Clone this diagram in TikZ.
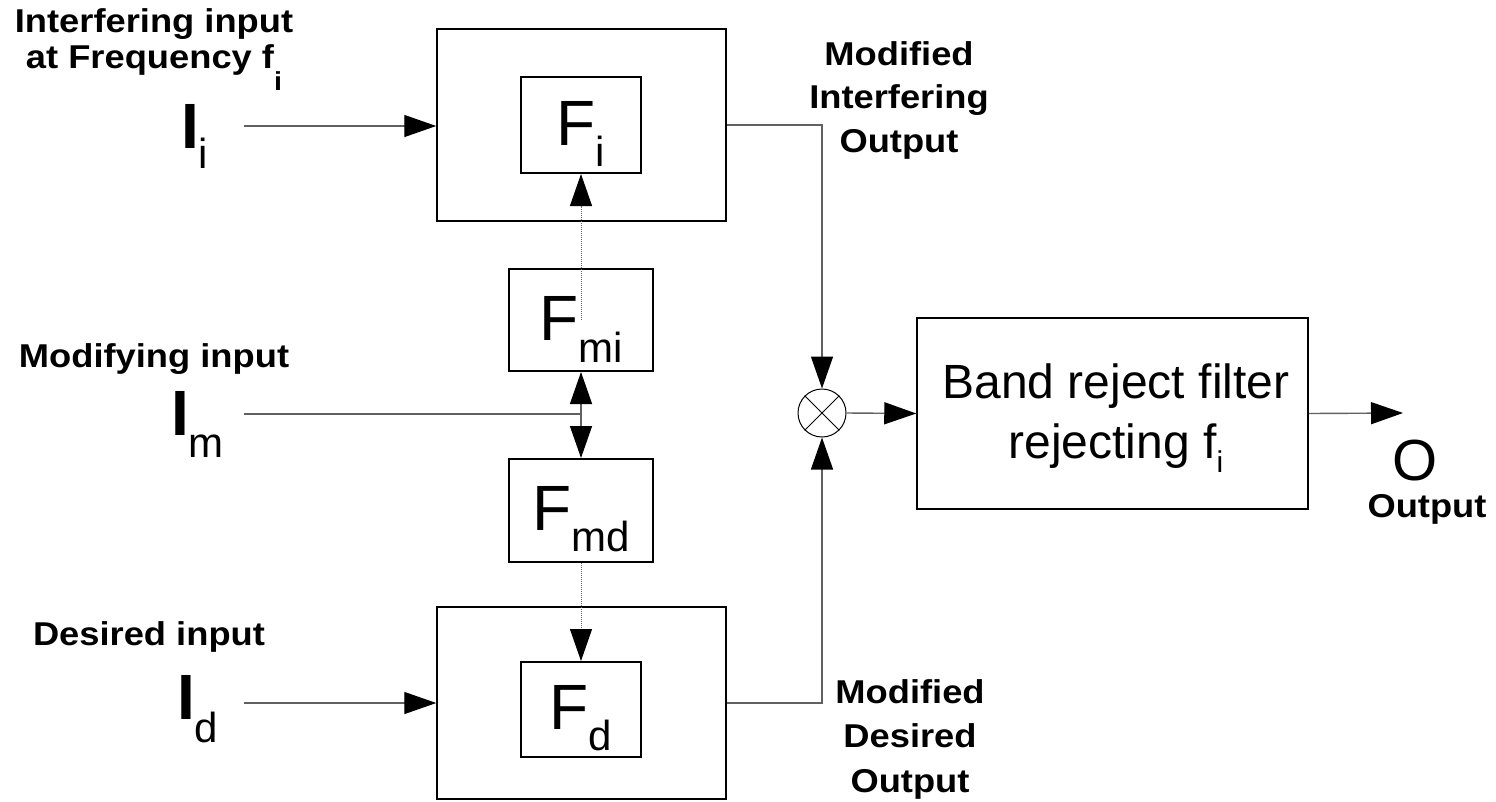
\documentclass[tikz,border=0pt]{standalone}
\usepackage{fontspec}
\setmainfont{Liberation Sans}
\newfontfamily\boldlbl{Liberation Sans}[FakeStretch=1.1]
\usetikzlibrary{arrows.meta}
\newcommand{\sbs}[2]{\raisebox{-#1pt}{\fontsize{42}{42}\selectfont #2}}
\begin{document}
\begin{tikzpicture}[x=1pt,y=-1pt,
  box/.style={draw=black,line width=1.5pt,fill=white,inner sep=0pt},
  inner/.style={draw=black,line width=2pt,fill=white,inner sep=0pt,
    font=\fontsize{64}{64}\selectfont,text height=46pt,text depth=6pt},
  conn/.style={draw=black!62,line width=1.4pt},
  arr/.style={-{Triangle[length=32pt,width=22pt,color=black]}},
  dotc/.style={draw=black!60,line width=1pt,densely dotted},
  lbl/.style={font=\boldlbl\bfseries\fontsize{33}{44}\selectfont,align=center,anchor=base,inner sep=0pt},
  bigI/.style={anchor=base west,inner sep=0pt,font=\fontsize{64}{64}\selectfont},
]
\useasboundingbox (0,0) rectangle (1496,801);
% outer boxes
\node[box,minimum width=289pt,minimum height=192pt] (top) at (581.5,125) {};
\node[box,minimum width=289pt,minimum height=192pt] (bot) at (581.5,703) {};
% inner boxes
\node[inner,minimum width=120pt,minimum height=96pt] (Fi) at (581,125) {F\sbs{21}{i}};
\node[inner,minimum width=144pt,minimum height=102pt] (Fmi) at (581,320) {F\sbs{22}{mi}};
\node[inner,minimum width=144pt,minimum height=103pt] (Fmd) at (581,510.5) {F\sbs{21}{md}};
\node[inner,minimum width=120pt,minimum height=95pt] (Fd) at (581,709.5) {F\sbs{21}{d}};
% mixer and filter
\node[draw=black,circle,minimum size=48pt,inner sep=0pt,line width=1pt,fill=white] (mix) at (822,413) {};
\draw[line width=1pt] (mix.north east) -- (mix.south west) (mix.north west) -- (mix.south east);
\node[box,minimum width=391pt,minimum height=191pt] (band) at (1112.5,413.5) {};
\node[anchor=base,inner sep=0pt,align=center,font=\fontsize{48}{60}\selectfont] (bandlbl) at (1116,458)
  {Band reject filter\\rejecting f\raisebox{-14pt}{\fontsize{30}{30}\selectfont i}};
% input labels
\node[bigI] (Ii) at (181,148) {\textbf{I}\raisebox{-20pt}{\fontsize{42}{42}\selectfont i}};
\node[bigI] (Im) at (171,435) {\textbf{I}\raisebox{-22pt}{\fontsize{42}{42}\selectfont m}};
\node[bigI] (Id) at (177,719) {\textbf{I}\raisebox{-23pt}{\fontsize{42}{42}\selectfont d}};
\node[lbl,font=\boldlbl\bfseries\fontsize{33}{36}\selectfont] (lii) at (154,68)
  {Interfering input\\at Frequency f\raisebox{-22pt}{\fontsize{26}{26}\selectfont i}};
\node[lbl] (lmi) at (154,367) {Modifying input};
\node[lbl] (ldi) at (149,645) {Desired input};
\node[lbl,font=\boldlbl\bfseries\fontsize{33}{43.5}\selectfont] (lmio) at (899,152) {Modified\\Interfering\\Output};
\node[lbl,font=\boldlbl\bfseries\fontsize{33}{44.5}\selectfont] (lmdo) at (910,792) {Modified\\Desired\\Output};
\node[anchor=base,inner sep=0pt,font=\fontsize{58}{58}\selectfont] (O) at (1415,480) {O};
\node[lbl] (lout) at (1427,517) {Output};
% connector end points
\coordinate (ii) at (244,126);
\coordinate (im) at (244,414);
\coordinate (id) at (244,703);
\coordinate (outc) at (1403,413);
% connectors
\draw[conn,arr] (ii) -- (ii -| top.west);
\draw[conn,arr] (id) -- (id -| bot.west);
\draw[conn] (im) -- (im -| Fmi.south) coordinate (jm);
\draw[conn,arr] (jm) -- (Fmi.south);
\draw[conn,arr] (jm) -- (Fmd.north);
\draw[dotc,arr] (Fmi.center) -- (Fi.south);
\draw[dotc,arr] (Fmd.south) -- (Fd.north);
\draw[conn,arr] (top.east) -- (top.east -| mix.north) -- (mix.north);
\draw[conn,arr] (bot.east) -- (bot.east -| mix.south) -- (mix.south);
\draw[conn,arr] (mix.east) -- (band.west);
\draw[conn,arr] (band.east) -- (outc);
\end{tikzpicture}
\end{document}
